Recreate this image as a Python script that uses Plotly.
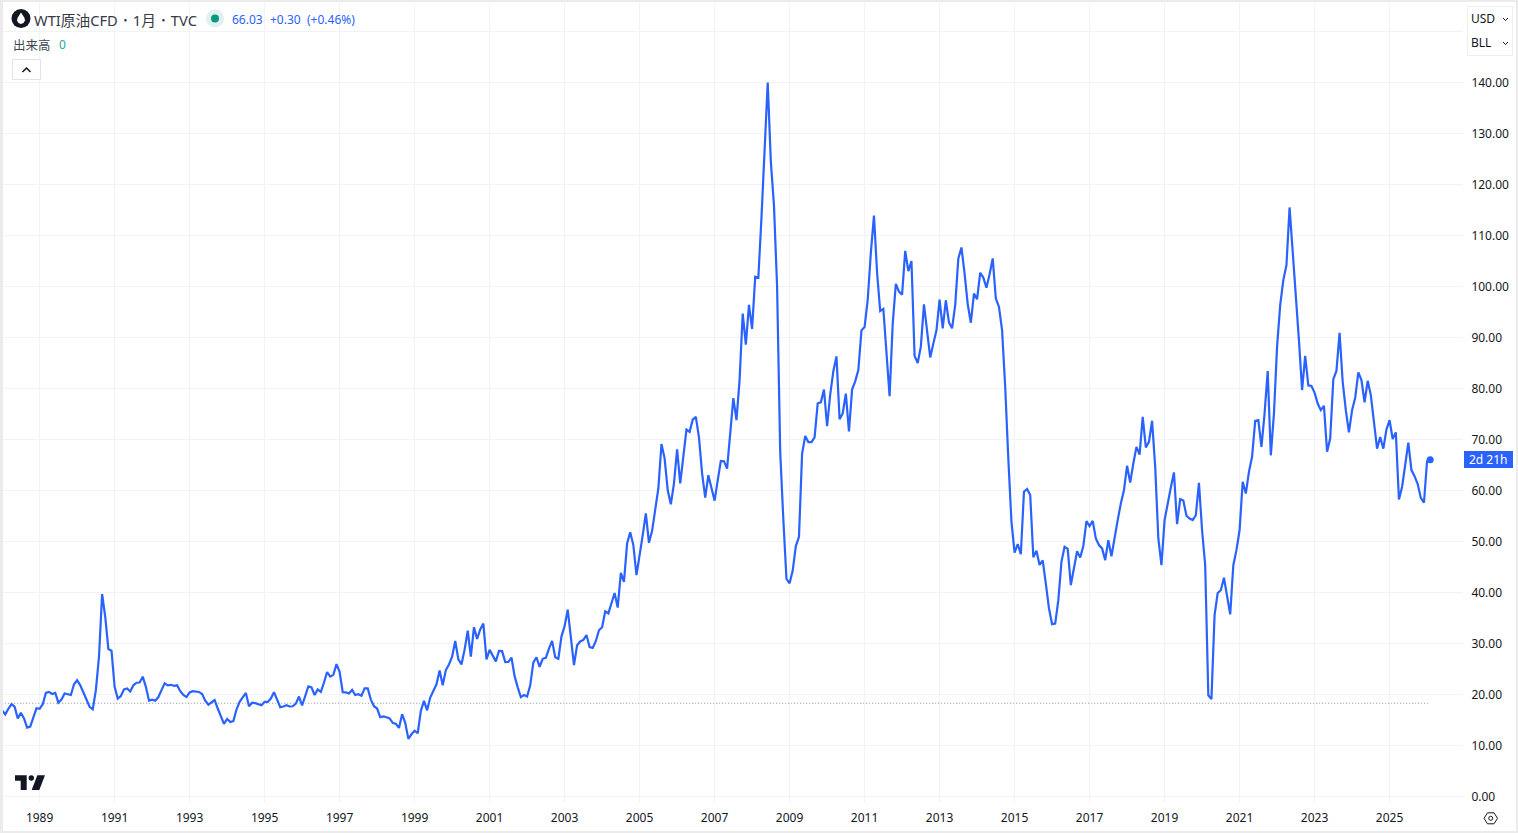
import pandas as pd
import plotly.graph_objects as go

WIDTH = 1518
HEIGHT = 833
# the page comes out about 2px short when photographed, so layout positions are worked out against this
DRAWN_HEIGHT = 831
FONT = "Noto Sans, Noto Sans CJK JP, sans-serif"

# monthly closes, one list per year
wti_1988 = [16.9, 16.1, 17.2, 18.1, 17.6, 15.3, 16.4, 15.3, 13.5, 13.7, 15.5, 17.3]
wti_1989 = [17.2, 18.1, 20.3, 20.5, 20.1, 20.3, 18.4, 19.0, 20.2, 20.1, 19.9, 22.0]
wti_1990 = [22.8, 21.8, 20.5, 18.9, 17.6, 17.1, 20.85, 27.4, 39.7, 35.2, 28.9, 28.6]
wti_1991 = [21.5, 19.2, 19.7, 21.0, 21.2, 20.6, 21.8, 22.3, 22.35, 23.5, 21.5, 18.8]
wti_1992 = [19.0, 18.8, 19.5, 20.85, 22.2, 21.8, 21.9, 21.7, 21.8, 20.65, 19.9, 19.5]
wti_1993 = [20.4, 20.65, 20.5, 20.5, 20.1, 18.8, 18.0, 18.4, 18.9, 17.25, 15.6, 14.25]
wti_1994 = [15.2, 14.6, 14.8, 17.05, 18.55, 19.4, 20.3, 17.7, 18.4, 18.3, 18.1, 17.9]
wti_1995 = [18.55, 18.55, 19.2, 20.45, 19.0, 17.5, 17.65, 17.9, 17.65, 17.7, 18.2, 19.6]
wti_1996 = [17.85, 19.9, 21.6, 21.4, 19.9, 21.0, 20.5, 22.35, 24.4, 23.5, 23.85, 25.95]
wti_1997 = [24.45, 20.45, 20.4, 20.2, 20.9, 19.9, 20.05, 19.75, 21.2, 21.2, 19.0, 17.7]
wti_1998 = [17.25, 15.55, 15.7, 15.55, 15.3, 14.45, 14.25, 13.45, 16.15, 14.45, 11.3, 12.2]
wti_1999 = [12.9, 12.4, 16.8, 18.75, 16.9, 19.4, 20.85, 22.0, 24.7, 21.8, 24.8, 25.9]
wti_2000 = [27.4, 30.5, 26.9, 25.9, 28.8, 32.5, 27.45, 33.2, 30.9, 32.75, 33.9, 26.9]
wti_2001 = [28.75, 27.5, 26.5, 28.55, 28.5, 26.35, 26.4, 27.25, 23.6, 21.4, 19.5, 19.9]
wti_2002 = [19.6, 21.8, 26.3, 27.3, 25.4, 27.0, 27.2, 29.0, 30.5, 27.3, 27.0, 31.4]
wti_2003 = [33.4, 36.65, 31.2, 25.75, 29.65, 30.4, 30.7, 31.65, 29.3, 29.15, 30.5, 32.6]
wti_2004 = [33.2, 36.3, 35.9, 37.85, 39.9, 37.05, 43.85, 42.1, 49.6, 51.8, 49.3, 43.4]
wti_2005 = [47.0, 51.25, 55.5, 49.75, 52.1, 56.8, 60.4, 69.1, 66.3, 60.05, 57.3, 61.4]
wti_2006 = [68.05, 61.4, 66.6, 71.95, 71.5, 73.9, 74.45, 70.4, 63.35, 58.6, 63.0, 60.7]
wti_2007 = [58.0, 62.0, 65.8, 65.75, 64.3, 71.2, 78.1, 73.8, 81.7, 94.7, 88.6, 96.4]
wti_2008 = [91.7, 101.9, 101.7, 113.5, 127.3, 140.0, 124.5, 115.9, 100.0, 67.5, 54.3, 42.65]
wti_2009 = [41.8, 44.3, 49.1, 50.9, 67.2, 70.7, 69.5, 69.5, 70.4, 77.1, 77.3, 79.8]
wti_2010 = [72.6, 78.8, 83.4, 86.3, 74.0, 75.1, 79.0, 71.6, 79.8, 81.4, 83.6, 91.4]
wti_2011 = [92.05, 97.4, 106.6, 113.9, 102.7, 95.2, 95.6, 86.75, 78.5, 92.7, 100.5, 99.0]
wti_2012 = [98.4, 107.0, 103.0, 105.0, 86.4, 85.0, 88.2, 96.5, 91.2, 86.1, 88.8, 91.4]
wti_2013 = [97.45, 91.8, 97.3, 92.95, 91.8, 96.35, 105.5, 107.65, 102.55, 96.55, 92.9, 98.6]
wti_2014 = [97.5, 102.7, 101.75, 99.75, 102.4, 105.5, 97.65, 96.0, 91.45, 80.3, 66.2, 53.85]
wti_2015 = [47.8, 49.5, 47.5, 59.75, 60.3, 59.1, 46.9, 48.2, 45.4, 46.3, 41.75, 36.9]
wti_2016 = [33.8, 33.9, 38.5, 46.0, 48.95, 48.55, 41.45, 44.7, 48.1, 46.85, 49.1, 54.0]
wti_2017 = [53.0, 54.05, 50.6, 49.3, 48.65, 46.35, 50.25, 47.1, 50.9, 54.2, 57.45, 60.05]
wti_2018 = [64.85, 61.55, 65.3, 68.55, 67.05, 74.45, 68.45, 69.55, 73.65, 64.65, 50.6, 45.35]
wti_2019 = [54.2, 57.8, 60.6, 63.55, 53.4, 58.3, 58.05, 55.05, 54.5, 54.2, 55.15, 61.5]
wti_2020 = [52.2, 45.35, 19.85, 19.1, 35.55, 39.9, 40.45, 42.9, 39.6, 35.7, 45.35, 48.3]
wti_2021 = [52.2, 61.7, 59.4, 63.65, 66.6, 73.65, 73.8, 68.55, 75.1, 83.4, 66.9, 75.1]
wti_2022 = [88.2, 96.35, 101.25, 104.2, 115.5, 107.1, 98.6, 89.5, 79.7, 86.4, 80.6, 80.5]
wti_2023 = [79.2, 77.05, 75.75, 76.6, 67.6, 70.2, 81.8, 83.45, 90.9, 81.3, 75.75, 71.4]
wti_2024 = [75.75, 78.2, 83.15, 81.65, 77.3, 81.5, 78.7, 73.45, 68.2, 70.5, 68.2, 71.95]
wti_2025 = [73.8, 70.1, 71.4, 58.25, 60.7, 65.0, 69.4, 64.0, 62.8, 61.25, 58.55, 57.6]
wti_2026 = [65.75, 66.03]

close = (wti_1988 + wti_1989 + wti_1990 + wti_1991 + wti_1992 + wti_1993 + wti_1994
         + wti_1995 + wti_1996 + wti_1997 + wti_1998 + wti_1999 + wti_2000 + wti_2001
         + wti_2002 + wti_2003 + wti_2004 + wti_2005 + wti_2006 + wti_2007 + wti_2008
         + wti_2009 + wti_2010 + wti_2011 + wti_2012 + wti_2013 + wti_2014 + wti_2015
         + wti_2016 + wti_2017 + wti_2018 + wti_2019 + wti_2020 + wti_2021 + wti_2022
         + wti_2023 + wti_2024 + wti_2025 + wti_2026)
months = pd.date_range("1988-01-01", periods=len(close), freq="MS")
base_price = 18.27
price_ticks = [0, 10, 20, 30, 40, 50, 60, 70, 80, 90, 100, 110, 120, 130, 140, 150]
price_labels = [f"{p:.2f}" for p in price_ticks[:-1]] + [""]

# months are equally spaced on a TradingView time axis, so plot by bar number
bars = list(range(len(close)))
year_bars = [b for b, m in zip(bars, months) if m.month == 1 and m.year % 2 == 1]
year_labels = [str(months[b].year) for b in year_bars]


def px(x):
    return x / WIDTH


def py(y):
    return 1 - y / DRAWN_HEIGHT


def box(x0, y0, x1, y1, **kw):
    return dict(type="rect", xref="paper", yref="paper", x0=px(x0), x1=px(x1), y0=py(y0), y1=py(y1), **kw)


def dot(cx, cy, r, **kw):
    return dict(type="circle", xref="paper", yref="paper", x0=px(cx - r), x1=px(cx + r),
                y0=py(cy - r), y1=py(cy + r), **kw)


def path(points, closed=True, **kw):
    d = "M" + " L".join(f"{px(x):.5f},{py(y):.5f}" for x, y in points) + (" Z" if closed else "")
    return dict(type="path", xref="paper", yref="paper", path=d, **kw)


def label(x, y, text, size=12, color="#131722", anchor="left"):
    return dict(xref="paper", yref="paper", x=px(x), y=py(y), text=text, showarrow=False, xanchor=anchor,
                yanchor="middle", borderpad=0, font=dict(family=FONT, size=size, color=color))


fig = go.Figure()
fig.add_trace(go.Scatter(x=[bars[0], bars[-1]], y=[base_price, base_price], mode="lines",
                         line=dict(color="#7fbdb8", width=1, dash="1px,2px"), hoverinfo="skip"))
fig.add_trace(go.Scatter(x=[bars[0], bars[-1]], y=[base_price, base_price], mode="lines",
                         line=dict(color="#e59a9a", width=1, dash="1px,5px"), hoverinfo="skip"))
fig.add_trace(go.Scatter(x=bars, y=close, mode="lines", line=dict(color="#2962FF", width=2.2), name="WTI"))
fig.add_trace(go.Scatter(x=bars[-1:], y=close[-1:], mode="markers", marker=dict(color="#2962FF", size=7),
                         cliponaxis=False))

no_line = dict(width=0)
shapes = [
    box(3, 2, 1516, 831, fillcolor="white", line=no_line, layer="below"),
    # header icon and status dot
    dot(21, 18.5, 9.5, fillcolor="#131722", line=no_line),
    path([(21, 12.5), (24.5, 18), (25, 20.5), (23.5, 23), (21, 24), (18.5, 23), (17, 20.5), (17.5, 18)],
         fillcolor="white", line=no_line),
    dot(215, 18.5, 9, fillcolor="#e0f2ef", line=no_line),
    dot(215, 18.5, 4, fillcolor="#089981", line=no_line),
    # collapse button
    dict(box(12.5, 59.5, 40.5, 79.5), fillcolor="white", line=dict(color="#e0e3eb", width=1)),
    path([(22.5, 72), (26.5, 68), (30.5, 72)], closed=False, line=dict(color="#131722", width=1.5)),
    # unit box top right
    dict(box(1467.5, 6.5, 1512.5, 55.5), fillcolor="white", line=dict(color="#eeeff3", width=1)),
    path([(1503, 18), (1505.5, 20.5), (1508, 18)], closed=False, line=dict(color="#131722", width=1)),
    path([(1503, 42), (1505.5, 44.5), (1508, 42)], closed=False, line=dict(color="#131722", width=1)),
    # countdown tag
    box(1464, 451, 1513, 468, fillcolor="#2962FF", line=no_line),
    # TradingView mark
    path([(15, 775.3), (26.7, 775.3), (26.7, 790), (20.7, 790), (20.7, 780.7), (15, 780.7)],
         fillcolor="#131722", line=no_line),
    dot(31.3, 778, 2.7, fillcolor="#131722", line=no_line),
    path([(37.3, 775.3), (45, 775.3), (39.3, 790), (31.7, 790)], fillcolor="#131722", line=no_line),
    # settings icon
    path([(1484, 818.3), (1487.5, 812.8), (1494, 812.8), (1497.5, 818.3), (1494, 823.8), (1487.5, 823.8)],
         line=dict(color="#131722", width=1)),
    dot(1490.7, 818.3, 2, line=dict(color="#131722", width=1)),
]

annotations = [
    label(32.5, 19.5, "WTI原油CFD ･ 1月 ･ TVC", size=14.7, color="#363a45"),
    label(231, 19.5, "66.03", size=12, color="#2962FF"),
    label(268.5, 19.5, "+0.30", size=12, color="#2962FF"),
    label(305.5, 19.5, "(+0.46%)", size=12, color="#2962FF"),
    label(11.5, 45.5, "出来高", size=12.5, color="#434651"),
    label(57.5, 45, "0", size=12, color="#22ab94"),
    label(1469.5, 18.5, "USD", size=12),
    label(1469.5, 42.5, "BLL", size=12),
    label(1488.5, 459.5, "2d 21h", size=12, color="white", anchor="center"),
]

fig.update_layout(
    width=WIDTH, height=HEIGHT, margin=dict(l=0, r=0, t=0, b=0), showlegend=False,
    paper_bgcolor="#ebebeb", plot_bgcolor="rgba(0,0,0,0)", hovermode=False,
    font=dict(family=FONT, size=12, color="#131722"),
    shapes=shapes, annotations=annotations,
    xaxis=dict(domain=[px(3), px(1463)], range=[0.28, 467.5], tickmode="array", tickvals=year_bars,
               ticktext=year_labels, showgrid=True, gridcolor="#f2f3f6", gridwidth=1, zeroline=False,
               showline=False, ticks="outside", ticklen=4, tickcolor="rgba(0,0,0,0)",
               tickfont=dict(family=FONT, size=12, color="#131722")),
    yaxis=dict(domain=[py(803), py(3)], range=[(796.5 - 803) / 5.1, (796.5 - 3) / 5.1], side="right",
               tickmode="array", tickvals=price_ticks, ticktext=price_labels, showgrid=True,
               gridcolor="#f2f3f6", gridwidth=1, zeroline=False, showline=False, ticks="outside", ticklen=5,
               tickcolor="rgba(0,0,0,0)", tickfont=dict(family=FONT, size=12, color="#131722")),
)

page_css = ("var r=document.documentElement,b=document.body;"
            "r.style.margin=b.style.margin='0';r.style.height=b.style.height='833px';"
            "r.style.overflow=b.style.overflow='hidden';")
fig.write_html("out.html", default_width=WIDTH, default_height=HEIGHT,
               config={"displayModeBar": False, "responsive": False}, post_script=page_css)
